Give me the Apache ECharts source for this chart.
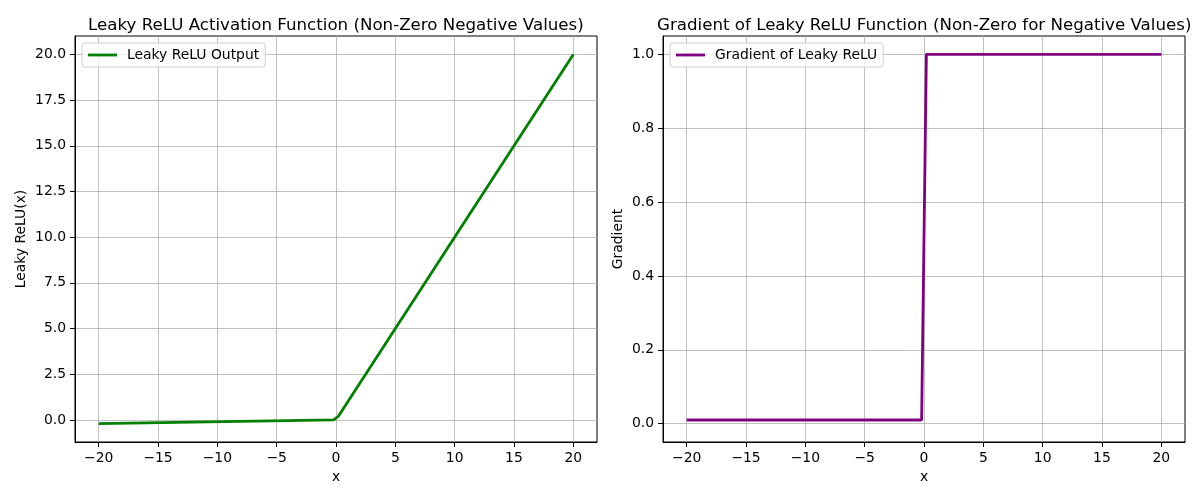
<!DOCTYPE html>
<html><head><meta charset="utf-8">
<script src="https://cdn.jsdelivr.net/npm/echarts@6/dist/echarts.min.js"></script>
<style>html,body{margin:0;padding:0;background:#fff}#c{width:1200px;height:500px}</style>
</head><body><div id="c"></div>
<script>
// Data (piecewise-linear vertices)
const leakyX = [-20, -0.2, 0.2, 20];
const leakyY = [-0.2, -0.002, 0.2, 20];
const gradX = [-20, -0.2, 0.2, 20];
const gradY = [0.01, 0.01, 1, 1];
const xTicks = [-20, -15, -10, -5, 0, 5, 10, 15, 20];
const leakyTicks = [0, 2.5, 5, 7.5, 10, 12.5, 15, 17.5, 20];
const gradTicks = [0, 0.2, 0.4, 0.6, 0.8, 1.0];
const titles = ['Leaky ReLU Activation Function (Non-Zero Negative Values)', 'Gradient of Leaky ReLU Function (Non-Zero for Negative Values)'];
const seriesNames = ['Leaky ReLU Output', 'Gradient of Leaky ReLU'];

const FONT = 'DejaVu Sans';
const fmtX = v => String(v).replace('-', '\u2212');
const fmtY = v => (v < 0 ? '\u2212' : '') + Math.abs(v).toFixed(1);

function xAxis(gi) {
  return {
    type: 'value', gridIndex: gi, min: -22, max: 22,
    name: 'x', nameLocation: 'middle', nameGap: 28,
    nameTextStyle: {fontFamily: FONT, fontSize: 13.9, color: '#000'},
    axisLine: {show: true, onZero: false, lineStyle: {color: '#000', width: 1}},
    axisTick: {show: true, length: 5, customValues: xTicks, lineStyle: {color: '#000'}},
    axisLabel: {customValues: xTicks, formatter: fmtX, fontFamily: FONT, fontSize: 13.9, color: '#000', margin: 9},
    splitLine: {show: true, lineStyle: {color: '#b0b0b0', width: 0.8}}
  };
}
function yAxis(gi, min, max, ticks, name, gap) {
  return {
    type: 'value', gridIndex: gi, min: min, max: max,
    name: name, nameLocation: 'middle', nameGap: gap, nameRotate: 90,
    nameTextStyle: {fontFamily: FONT, fontSize: 13.9, color: '#000'},
    axisLine: {show: true, onZero: false, lineStyle: {color: '#000', width: 1}},
    axisTick: {show: true, length: 5, customValues: ticks, lineStyle: {color: '#000'}},
    axisLabel: {customValues: ticks, formatter: fmtY, fontFamily: FONT, fontSize: 13.9, color: '#000', margin: 9},
    splitLine: {show: true, lineStyle: {color: '#b0b0b0', width: 0.8}}
  };
}
const legendBase = {
  orient: 'vertical', icon: 'rect', itemWidth: 29, itemHeight: 2.8, itemGap: 0,
  backgroundColor: 'rgba(255,255,255,0.8)', borderColor: '#d0d0d0', borderWidth: 1, borderRadius: 3,
  padding: [5, 6, 5, 6],
  textStyle: {fontFamily: FONT, fontSize: 13.9, color: '#000', padding: [0, 0, 0, 5]}
};

const chart = echarts.init(document.getElementById('c'), null, {renderer: 'canvas'});
chart.setOption({
  animation: false,
  backgroundColor: '#fff',
  title: [
    {text: titles[0], left: 83, top: 12, textStyle: {fontFamily: FONT, fontSize: 16.67, fontWeight: 'normal', color: '#000'}},
    {text: titles[1], left: 652, top: 12, textStyle: {fontFamily: FONT, fontSize: 16.67, fontWeight: 'normal', color: '#000'}}
  ],
  grid: [
    {left: 75, right: 603, top: 36, bottom: 58, show: true, borderColor: '#000', borderWidth: 1, backgroundColor: 'transparent'},
    {left: 663, right: 15, top: 36, bottom: 58, show: true, borderColor: '#000', borderWidth: 1, backgroundColor: 'transparent'}
  ],
  xAxis: [xAxis(0), xAxis(1)],
  yAxis: [yAxis(0, -1.21, 21.01, leakyTicks, 'Leaky ReLU(x)', 47), yAxis(1, -0.0495, 1.0495, gradTicks, 'Gradient', 38)],
  legend: [
    Object.assign({}, legendBase, {data: [seriesNames[0]], left: 82, top: 43}),
    Object.assign({}, legendBase, {data: [seriesNames[1]], left: 670, top: 43})
  ],
  series: [
    {type: 'line', name: seriesNames[0], xAxisIndex: 0, yAxisIndex: 0, symbol: 'none',
     data: leakyX.map((x, i) => [x, leakyY[i]]), lineStyle: {color: '#008000', width: 2.8}, itemStyle: {color: '#008000'}},
    {type: 'line', name: seriesNames[1], xAxisIndex: 1, yAxisIndex: 1, symbol: 'none',
     data: gradX.map((x, i) => [x, gradY[i]]), lineStyle: {color: '#800080', width: 2.8}, itemStyle: {color: '#800080'}}
  ]
});
</script></body></html>
